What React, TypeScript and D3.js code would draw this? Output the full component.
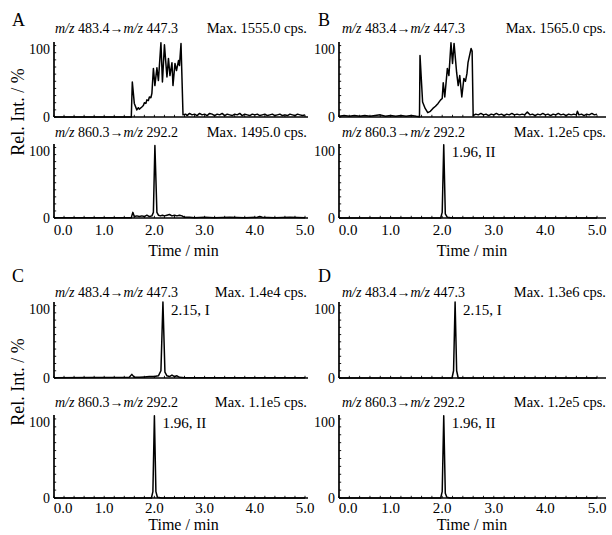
import React from "react";
import * as d3 from "d3";

type Pt = [number, number];

const timeTicks = [0, 1, 2, 3, 4, 5];
const timeTickLabels = ["0.0", "1.0", "2.0", "3.0", "4.0", "5.0"];
const minorTimeTicks = d3.range(0, 5.01, 0.2);
const intensityTicks = [0, 100];
const minorIntensityTicks = d3.range(0, 101, 10);
const panelLetters = ["A", "B", "C", "D"];
const transitions: [string, string][] = [
  ["483.4", "447.3"],
  ["860.3", "292.2"],
];
const maxLabels: [string, string][] = [
  ["Max. 1555.0 cps.", "Max. 1495.0 cps."],
  ["Max. 1565.0 cps.", "Max. 1.2e5 cps."],
  ["Max. 1.4e4 cps.", "Max. 1.1e5 cps."],
  ["Max. 1.3e6 cps.", "Max. 1.2e5 cps."],
];

// Panel A
const traceA1: Pt[] = [
  [0, 0], [1.54, 0], [1.56, 49], [1.6, 19], [1.65, 10], [1.68, 13], [1.7, 11], [1.75, 14], [1.78, 16],
  [1.8, 20], [1.83, 19], [1.85, 24], [1.88, 23], [1.9, 28], [1.93, 27], [1.95, 33], [1.98, 68], [2.01, 44],
  [2.05, 69], [2.08, 51], [2.13, 104], [2.16, 49], [2.2, 101], [2.25, 56], [2.28, 82], [2.31, 58],
  [2.35, 76], [2.37, 44], [2.41, 75], [2.44, 65], [2.48, 79], [2.5, 72], [2.53, 103], [2.57, 3],
  [2.62, 4], [2.65, 2], [2.7, 5], [2.75, 3], [2.8, 4], [2.85, 2], [2.9, 5], [2.95, 3], [3.0, 4],
  [3.05, 2], [3.1, 5], [3.15, 4], [3.2, 2], [3.25, 4], [3.3, 3], [3.35, 5], [3.4, 2], [3.45, 4],
  [3.5, 3], [3.55, 2], [3.6, 4], [3.65, 3], [3.7, 5], [3.75, 2], [3.8, 4], [3.85, 3], [3.9, 2],
  [3.95, 4], [4.0, 3], [4.05, 4], [4.1, 2], [4.15, 3], [4.2, 4], [4.25, 2], [4.3, 3], [4.35, 4],
  [4.4, 2], [4.45, 3], [4.5, 4], [4.55, 2], [4.6, 3], [4.65, 2], [4.7, 4], [4.75, 3], [4.8, 2],
  [4.85, 4], [4.9, 3], [4.95, 2], [5.0, 3],
];
const traceA2: Pt[] = [
  [0, 0.5], [1.54, 0.5], [1.57, 8], [1.6, 2], [1.65, 3], [1.7, 2], [1.75, 3], [1.8, 2], [1.85, 4],
  [1.9, 2], [1.95, 3], [1.98, 8], [2.01, 103], [2.05, 8], [2.08, 4], [2.12, 3], [2.16, 4], [2.2, 3],
  [2.25, 4], [2.3, 5], [2.35, 3], [2.4, 4], [2.45, 3], [2.5, 4], [2.55, 3], [2.6, 1], [2.7, 1],
  [2.8, 0.5], [3.0, 1], [3.2, 0.5], [3.5, 1], [3.8, 0.5], [4.05, 1], [4.1, 2], [4.15, 1], [4.4, 0.5],
  [4.7, 1], [5.0, 0.5],
];

// Panel B
const traceB1: Pt[] = [
  [0, 1], [0.1, 2], [0.2, 1], [0.3, 2], [0.4, 1], [0.5, 2], [0.6, 1], [0.7, 2], [0.8, 3], [0.9, 1],
  [1.0, 2], [1.1, 1], [1.2, 2], [1.3, 1], [1.4, 2], [1.5, 1], [1.56, 0.5], [1.57, 86], [1.62, 21],
  [1.67, 12], [1.72, 6], [1.77, 8], [1.82, 12], [1.87, 15], [1.92, 19], [1.97, 24], [2.0, 26],
  [2.02, 48], [2.05, 28], [2.1, 68], [2.13, 58], [2.17, 104], [2.2, 75], [2.23, 103], [2.28, 62],
  [2.31, 44], [2.34, 58], [2.38, 28], [2.42, 54], [2.45, 50], [2.48, 61], [2.5, 76], [2.56, 96],
  [2.58, 92], [2.6, 2], [2.65, 4], [2.7, 3], [2.75, 5], [2.8, 3], [2.85, 4], [2.9, 2], [2.95, 4],
  [3.0, 3], [3.05, 5], [3.1, 3], [3.15, 4], [3.2, 2], [3.25, 4], [3.3, 3], [3.35, 5], [3.4, 3],
  [3.45, 4], [3.5, 3], [3.55, 4], [3.6, 3], [3.65, 7], [3.7, 3], [3.75, 4], [3.8, 2], [3.85, 4],
  [3.9, 3], [3.95, 5], [4.0, 3], [4.05, 4], [4.1, 2], [4.15, 4], [4.2, 3], [4.25, 5], [4.3, 3],
  [4.35, 4], [4.4, 2], [4.45, 4], [4.5, 3], [4.55, 4], [4.6, 3], [4.62, 8], [4.65, 3], [4.7, 4],
  [4.75, 2], [4.8, 4], [4.85, 3], [4.9, 5], [4.95, 3], [5.0, 4],
];
const traceB2: Pt[] = [
  [0, 0], [1.97, 0], [2.0, 8], [2.03, 104], [2.06, 6], [2.1, 1], [2.2, 0], [5.0, 0],
];

// Panel C
const traceC1: Pt[] = [
  [0, 0.5], [1.5, 1], [1.55, 5], [1.6, 1], [1.7, 1], [1.8, 1.5], [1.9, 2], [2.0, 2], [2.08, 3],
  [2.13, 10], [2.17, 105], [2.21, 8], [2.25, 3], [2.3, 2], [2.35, 4], [2.4, 2], [2.45, 3], [2.5, 1],
  [2.6, 0.5], [5.0, 0.5],
];
const traceC2: Pt[] = [
  [0, 0], [1.94, 0], [1.97, 8], [2.0, 104], [2.03, 8], [2.06, 1], [2.15, 0], [5.0, 0],
];

// Panel D
const traceD1: Pt[] = [
  [0, 0], [2.19, 0], [2.22, 10], [2.25, 105], [2.28, 10], [2.31, 0], [5.0, 0],
];
const traceD2: Pt[] = [
  [0, 0], [1.97, 0], [2.0, 8], [2.03, 104], [2.06, 6], [2.09, 1], [2.15, 0], [5.0, 0],
];

const traces: [Pt[], Pt[]][] = [
  [traceA1, traceA2],
  [traceB1, traceB2],
  [traceC1, traceC2],
  [traceD1, traceD2],
];

const annotations = [
  { panel: 1, sub: 1, text: "1.96, II", t: 2.03 },
  { panel: 2, sub: 0, text: "2.15, I", t: 2.17 },
  { panel: 2, sub: 1, text: "1.96, II", t: 2.0 },
  { panel: 3, sub: 0, text: "2.15, I", t: 2.25 },
  { panel: 3, sub: 1, text: "1.96, II", t: 2.03 },
];

const FONT = "Liberation Serif, Tinos, Times New Roman, Times, DejaVu Serif, Noto Serif, serif";

const colRanges: [number, number][] = [
  [54, 305],
  [339, 597],
];
const colAxisEnd = [308, 606];
const colLabelX = [55, 342];
const colMaxX = [307, 606];
const colLetterX = [12, 318];

const rowLayout = [
  { letterY: 26, subs: [{ top: 42, base: 117, labelY: 33 }, { top: 144, base: 218, labelY: 137 }], tickY: 235, titleY: 256, yTitleY: 112 },
  { letterY: 282, subs: [{ top: 302, base: 378, labelY: 297 }, { top: 415, base: 498, labelY: 407 }], tickY: 513, titleY: 530, yTitleY: 382 },
];

export default function App() {
  const elements: React.ReactNode[] = [];
  panelLetters.forEach((letter, p) => {
    const col = p % 2;
    const row = Math.floor(p / 2);
    const lay = rowLayout[row];
    const x = d3.scaleLinear().domain([0, 5]).range(colRanges[col]);
    const x0 = x(0);
    elements.push(
      <text key={`L${p}`} x={colLetterX[col]} y={lay.letterY} fontSize={18}>
        {letter}
      </text>
    );
    lay.subs.forEach((g, s) => {
      const y = d3.scaleLinear().domain([0, 105]).range([g.base, g.top]);
      const line = d3
        .line<Pt>()
        .x((d) => x(d[0]))
        .y((d) => y(d[1]));
      const k = `${p}-${s}`;
      elements.push(
        <line key={`ya${k}`} x1={x0} x2={x0} y1={g.base} y2={g.top} stroke="#000" strokeWidth={1.7} />,
        <line key={`xa${k}`} x1={x0} x2={colAxisEnd[col]} y1={g.base} y2={g.base} stroke="#000" strokeWidth={1.5} />
      );
      minorTimeTicks.forEach((t, i) => {
        elements.push(
          <line key={`mx${k}-${i}`} x1={x(t)} x2={x(t)} y1={g.base} y2={g.base - 2.2} stroke="#000" strokeWidth={0.9} />
        );
      });
      minorIntensityTicks.forEach((v, i) => {
        elements.push(
          <line key={`my${k}-${i}`} x1={x0} x2={x0 + 2.2} y1={y(v)} y2={y(v)} stroke="#000" strokeWidth={0.9} />
        );
      });
      intensityTicks.forEach((v) => {
        elements.push(
          <text key={`yt${k}-${v}`} x={x0 - 4} y={v === 0 ? g.base + 5 : y(v) + 8} fontSize={14} textAnchor="end">
            {v}
          </text>
        );
      });
      const [a, b] = transitions[s];
      elements.push(
        <text key={`mz${k}`} x={colLabelX[col]} y={g.labelY} fontSize={14}>
          <tspan fontStyle="italic">m/z</tspan> {a}→<tspan fontStyle="italic">m/z</tspan> {b}
        </text>,
        <text key={`mx${k}`} x={colMaxX[col]} y={g.labelY} fontSize={14.5} textAnchor="end" style={{ whiteSpace: "pre" }}>
          {maxLabels[p][s]}
        </text>
      );
      elements.push(
        <path key={`tr${k}`} d={line(traces[p][s]) || ""} fill="none" stroke="#000" strokeWidth={1.5} strokeLinejoin="round" />
      );
      annotations
        .filter((an) => an.panel === p && an.sub === s)
        .forEach((an, i) => {
          elements.push(
            <text key={`an${k}-${i}`} x={x(an.t) + 8} y={g.top + 13} fontSize={15}>
              {an.text}
            </text>
          );
        });
      if (s === 1) {
        timeTicks.forEach((t, i) => {
          elements.push(
            <text key={`xt${k}-${i}`} x={i === 0 ? x(t) + 9 : x(t)} y={lay.tickY} fontSize={15} textAnchor="middle">
              {timeTickLabels[i]}
            </text>
          );
        });
        elements.push(
          <text key={`xl${k}`} x={(colRanges[col][0] + colRanges[col][1]) / 2 + 4} y={lay.titleY} fontSize={16} textAnchor="middle">
            Time / min
          </text>
        );
      }
    });
    if (col === 0) {
      elements.push(
        <text key={`yl${p}`} transform={`translate(24, ${lay.yTitleY}) rotate(-90)`} fontSize={18} textAnchor="middle">
          Rel. Int. / %
        </text>
      );
    }
  });

  return (
    <svg
      width={612}
      height={535}
      style={{ position: "absolute", left: 0, top: 0, background: "#fff", fontFamily: FONT }}
      fontFamily={FONT}
    >
      <rect width={612} height={535} fill="#fff" />
      {elements}
    </svg>
  );
}
